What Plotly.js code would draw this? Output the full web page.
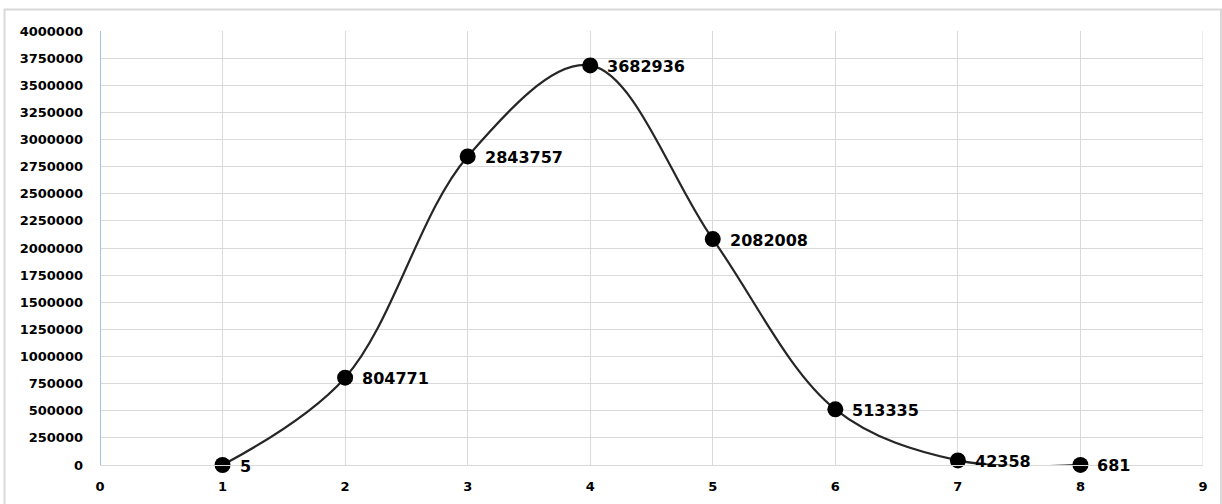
<!DOCTYPE html>
<html><head><meta charset="utf-8">
<script src="https://cdn.plot.ly/plotly-3.0.1.min.js"></script>
<style>html,body{margin:0;padding:0;background:#fff}#chart{width:1222px;height:504px}</style>
</head><body><div id="chart"></div>
<script>
const xValues = [1, 2, 3, 4, 5, 6, 7, 8];
const yValues = [5, 804771, 2843757, 3682936, 2082008, 513335, 42358, 681];
const labels = yValues.map(v => String(v));
const yTicks = [0,250000,500000,750000,1000000,1250000,1500000,1750000,2000000,2250000,2500000,2750000,3000000,3250000,3500000,3750000,4000000];
const xTicks = [0,1,2,3,4,5,6,7,8,9];

const W = 1222, H = 504, L = 100, R = 19, T = 31, B = 39;
const pw = W - L - R, ph = H - T - B;
const FONT = 'DejaVu Sans, Verdana, sans-serif';
const trace = {
  x: xValues, y: yValues,
  type: 'scatter', mode: 'lines+markers',
  line: {shape: 'spline', smoothing: 1, color: '#262626', width: 2.2},
  marker: {size: 16, color: '#000000'},
  cliponaxis: false, hoverinfo: 'none'
};
const annotations = xValues.map((x, i) => ({
  x: x, y: yValues[i], text: labels[i], xref: 'x', yref: 'y',
  showarrow: false, xanchor: 'left', yanchor: 'middle', xshift: 15, yshift: -1,
  font: {family: FONT, size: 16, color: '#000', weight: 'bold'}
}));
const layout = {
  width: W, height: H,
  margin: {l: L, r: R, t: T, b: B},
  paper_bgcolor: '#fff', plot_bgcolor: '#fff',
  showlegend: false,
  font: {family: FONT, size: 13, color: '#000', weight: 'bold'},
  xaxis: {range: [0, 9], tickvals: xTicks, ticktext: xTicks.map(String), showgrid: true, gridcolor: '#d9d9d9', gridwidth: 1,
          zeroline: false, showline: true, linecolor: '#d9d9d9', linewidth: 1, ticks: '', ticklabelstandoff: 9,
          tickfont: {family: FONT, size: 13, weight: 'bold'}},
  yaxis: {range: [0, 4000000], tickvals: yTicks, ticktext: yTicks.map(String), showgrid: true, gridcolor: '#d9d9d9', gridwidth: 1,
          zeroline: false, showline: false, ticks: '', ticklabelstandoff: 16,
          tickfont: {family: FONT, size: 13, weight: 'bold'}},
  annotations: annotations,
  shapes: [
    {type: 'line', xref: 'x', yref: 'paper', x0: 0, x1: 0, y0: 0, y1: 1, line: {color: '#9dc3e6', width: 2}},
    {type: 'line', xref: 'x', yref: 'paper', x0: 9, x1: 9, y0: 0, y1: 1, line: {color: '#d9d9d9', width: 1}},
    {type: 'rect', xref: 'paper', yref: 'paper',
     x0: (4.5 - L) / pw, x1: (1221 - L) / pw, y0: (H - 506 - B) / ph, y1: (H - 9.5 - B) / ph,
     line: {color: '#d9d9d9', width: 2}, fillcolor: 'rgba(0,0,0,0)', layer: 'below'}
  ]
};
Plotly.newPlot('chart', [trace], layout, {displayModeBar: false, staticPlot: true});
</script></body></html>
